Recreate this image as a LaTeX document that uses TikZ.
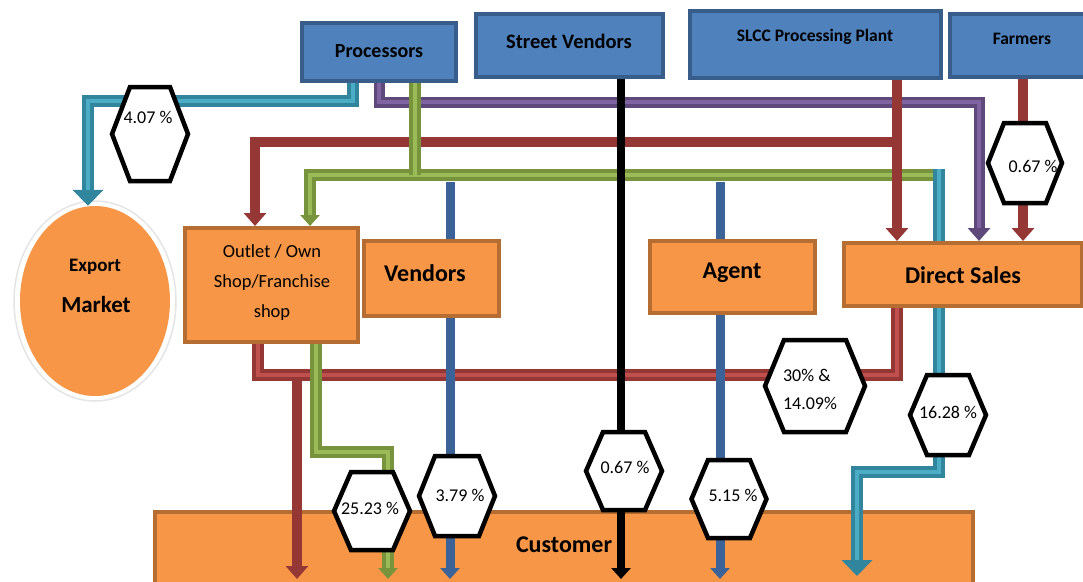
\documentclass[tikz,border=0pt]{standalone}
\usepackage{fontspec}
\setmainfont{Carlito}
\usetikzlibrary{arrows.meta,shapes.geometric}
\definecolor{bfill}{HTML}{4F81BD}
\definecolor{bbord}{HTML}{385D8A}
\definecolor{ofill}{HTML}{F79646}
\definecolor{obord}{HTML}{B66D31}
\definecolor{tealD}{HTML}{31859C}
\definecolor{tealL}{HTML}{4BACC6}
\definecolor{purD}{HTML}{5F497A}
\definecolor{purL}{HTML}{8064A2}
\definecolor{grnD}{HTML}{77933C}
\definecolor{grnL}{HTML}{9BBB59}
\definecolor{redD}{HTML}{953735}
\definecolor{redL}{HTML}{C0504D}
\definecolor{blueS}{HTML}{3C6398}
\newcommand\duo[3]{\draw[#1] #3; \draw[#2] #3;}
\newcommand\hexa[7]{% name, cx, cy, hw, hh, tw, style
  \draw[hexs, shift={(#2,#3)}] (-#4,0) -- (-#6,-#5) -- (#6,-#5) -- (#4,0) -- (#6,#5) -- (-#6,#5) -- cycle;
  \coordinate (#1) at (#2,#3);}
\begin{document}
\begin{tikzpicture}[x=1pt,y=-1pt,
  bluebox/.style={draw=bbord, fill=bfill, line width=4pt, inner sep=0pt},
  orbox/.style={draw=obord, fill=ofill, line width=4pt, inner sep=0pt},
  boxtxt/.style={inner sep=0pt, font=\bfseries\fontsize{20}{24}\selectfont},
  bigtxt/.style={inner sep=0pt, font=\bfseries\fontsize{24}{28}\selectfont},
  midtxt/.style={inner sep=0pt, font=\bfseries\fontsize{17.5}{21}\selectfont},
  pct/.style={inner sep=0pt, font=\fontsize{18}{28}\selectfont},
  hexs/.style={draw=black, fill=white, line width=4.5pt, line join=miter},
  tealO/.style={draw=tealD, line width=12pt},
  tealI/.style={draw=tealL, line width=4pt},
  purO/.style={draw=purD, line width=11pt},
  purI/.style={draw=purL, line width=3.5pt},
  grnO/.style={draw=grnD, line width=12pt},
  grnI/.style={draw=grnL, line width=4pt},
  redO/.style={draw=redD, line width=12pt},
  redI/.style={draw=redL, line width=4pt},
  redS/.style={draw=redD, line width=10pt},
  blueline/.style={draw=blueS, line width=9pt},
  blackline/.style={draw=black, line width=8pt},
  bigtip/.style={-{Triangle[width=30pt,length=16pt]}},
  midtip/.style={-{Triangle[width=22pt,length=13pt]}},
  smalltip/.style={-{Triangle[width=19pt,length=11pt]}},
]
\useasboundingbox (0,0) rectangle (1083,581);
\clip (0,0) rectangle (1083,581);

% ---- boxes ----
\node[bluebox, minimum width=154pt, minimum height=58pt] (proc) at (379,52) {};
\node[boxtxt] (proct) at (379,51) {Processors};
\node[bluebox, minimum width=187pt, minimum height=63pt] (street) at (569.5,45.5) {};
\node[boxtxt, font=\bfseries\fontsize{20.5}{24}\selectfont] (streett) at (569,41) {Street Vendors};
\node[bluebox, minimum width=251pt, minimum height=67pt] (slcc) at (815.5,44.5) {};
\node[midtxt] (slcct) at (815,37) {SLCC Processing Plant};
\node[bluebox, minimum width=150pt, minimum height=63pt] (farm) at (1025,45.5) {};
\node[midtxt] (farmt) at (1022,39) {Farmers};

\node[ellipse, draw=black!10, line width=1.5pt, fill=white, minimum width=162pt, minimum height=200pt] (exporth) at (95,301) {};
\node[ellipse, fill=ofill, inner sep=0pt, minimum width=150pt, minimum height=190pt] (export) at (95,301) {};
\node[inner sep=0pt, font=\bfseries\fontsize{19}{22}\selectfont] (exportt) at (95,267) {Export};
\node[inner sep=0pt, font=\bfseries\fontsize{23}{26}\selectfont] (markett) at (96,305) {Market};

\node[orbox, minimum width=173pt, minimum height=114pt] (outlet) at (271.5,285) {};
\node[inner sep=0pt, align=center, font=\fontsize{18.5}{30}\selectfont] (outlett) at (272,283) {Outlet / Own\\Shop/Franchise\\shop};
\node[orbox, minimum width=135pt, minimum height=75pt] (vend) at (431.5,278.5) {};
\node[bigtxt] (vendt) at (425,273) {Vendors};
\node[orbox, minimum width=165pt, minimum height=72pt] (agent) at (732.5,277) {};
\node[bigtxt] (agentt) at (732,273) {Agent};
\node[orbox, minimum width=238pt, minimum height=63pt] (direct) at (963,274.5) {};
\node[bigtxt] (directt) at (963,275) {Direct Sales};
\node[orbox, minimum width=818pt, minimum height=96pt] (cust) at (564,560) {};
\node[inner sep=0pt, font=\bfseries\fontsize{24}{28}\selectfont] (custt) at (564,545) {Customer};

% ---- coordinates ----
\coordinate (t1) at (353,101); \coordinate (t2) at (88,101);
\coordinate (p1) at (379,102); \coordinate (p2) at (979,102);
\coordinate (g1) at (415,175); \coordinate (g2) at (310,175); \coordinate (g3) at (935,175);
\coordinate (r1) at (897,142); \coordinate (r2) at (255,142);
\coordinate (fx) at (1023,160);
\coordinate (q1) at (939,169);
\coordinate (b1) at (450,182); \coordinate (b2) at (720,182);
\coordinate (b1e) at (450,579); \coordinate (b2e) at (720,579);
\coordinate (k1) at (621,579);
\coordinate (l1) at (258,375); \coordinate (l2) at (897,375);
\coordinate (l3) at (297,375); \coordinate (l3e) at (297,579);
\coordinate (m1) at (316,452); \coordinate (m2) at (388,452); \coordinate (m3) at (388,579);
\coordinate (n1) at (939,472); \coordinate (n2) at (857,472); \coordinate (n3) at (857,576);

% ---- connectors ----
\duo{purO,midtip}{purI,shorten >=13pt}{(proc.south -| p1) -- (p1) -- (p2) -- (direct.north -| p2)}
\draw[redS,midtip] (r1) -- (r2) -- (outlet.north -| r2);
\draw[blueline] (b1) -- (vend.north -| b1);
\draw[blueline] (b2) -- (agent.north -| b2);
\duo{grnO,smalltip}{grnI,shorten >=11pt}{(g3) -- (g2) -- (outlet.north -| g2)}
\duo{grnO}{grnI}{(proc.south -| g1) -- (g1)}
\draw[redS,midtip] (slcc.south -| r1) -- (direct.north -| r1);
\duo{tealO}{tealI}{(q1) -- (direct.north -| q1)}
\draw[redS,midtip] (farm.south -| fx) -- (direct.north -| fx);
\duo{tealO,bigtip}{tealI,shorten >=16pt}{(proc.south -| t1) -- (t1) -- (t2) -- (export.north -| t2)}

\draw[redS,midtip] (l3) -- (l3e);
\duo{redO}{redI}{(outlet.south -| l1) -- (l1) -- (l2) -- (direct.south -| l2)}
\duo{grnO,smalltip}{grnI,shorten >=11pt}{(outlet.south -| m1) -- (m1) -- (m2) -- (m3)}
\draw[blueline,smalltip] (vend.south -| b1) -- (b1e);
\draw[blueline,smalltip] (agent.south -| b2) -- (b2e);
\draw[blackline,smalltip] (street.south -| k1) -- (k1);
\duo{tealO,bigtip}{tealI,shorten >=16pt}{(direct.south -| n1) -- (n1) -- (n2) -- (n3)}

% ---- hexagons ----
\hexa{h1}{150}{134}{38}{47}{20}{}
\node[pct] (h1t) at (148,117) {4.07 \%};
\hexa{h2}{1025}{163}{37}{40}{21}{}
\node[pct] (h2t) at (1033,166) {0.67 \%};
\hexa{h3}{372}{511}{38}{39}{21}{}
\node[pct] (h3t) at (370,508) {25.23 \%};
\hexa{h4}{457}{496}{38}{40}{22}{}
\node[pct] (h4t) at (460,495) {3.79 \%};
\hexa{h5}{624}{471}{38}{39}{21}{}
\node[pct] (h5t) at (625,467) {0.67 \%};
\hexa{h6}{729}{499}{37.5}{39}{21}{}
\node[pct] (h6t) at (733,495) {5.15 \%};
\hexa{h7}{815}{386}{50}{46}{31}{}
\node[pct, align=left] (h7t) at (810,389) {30\% \&\\14.09\%};
\hexa{h8}{948}{415}{38}{40}{21}{}
\node[pct] (h8t) at (948,412) {16.28 \%};
\end{tikzpicture}
\end{document}
